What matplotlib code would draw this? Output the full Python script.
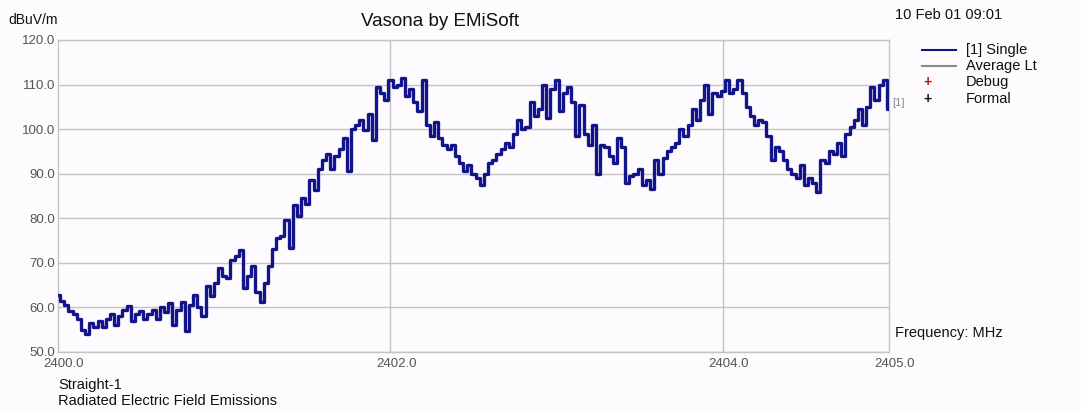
import matplotlib
matplotlib.use("Agg")
import matplotlib.pyplot as plt
import matplotlib.transforms as mtransforms
import numpy as np

plt.rcParams['font.family'] = ['Liberation Sans', 'DejaVu Sans']

# frequency axis: 2400.0 .. 2405.0 MHz, one reading every 0.025 MHz
f_start = 2400.0
f_step = 0.025

# field strength readings (dBuV/m)
level = [
    62.7, 61.5, 60.5, 59.2, 58.5, 57.5, 55.0, 54.0, 56.5, 55.5,
    57.0, 55.5, 57.5, 58.6, 56.0, 58.0, 59.5, 60.4, 57.0, 58.5,
    59.3, 57.5, 58.6, 59.5, 57.5, 60.0, 59.0, 61.0, 56.0, 59.5,
    61.3, 54.6, 60.5, 62.7, 60.0, 58.0, 64.7, 62.5, 65.5, 68.8,
    67.0, 66.5, 70.6, 71.5, 72.8, 64.3, 67.0, 69.4, 63.4, 61.3,
    65.5, 69.4, 73.0, 75.5, 76.0, 79.5, 73.3, 82.9, 80.5, 84.5,
    83.3, 88.5, 86.3, 91.0, 93.0, 94.5, 91.0, 94.0, 95.5, 98.0,
    90.5, 100.0, 101.0, 102.0, 99.8, 103.5, 97.5, 109.5, 108.0, 106.5,
    111.0, 109.5, 110.0, 111.5, 107.5, 109.0, 106.0, 104.0, 111.0, 101.0,
    98.5, 101.5, 98.0, 96.5, 95.5, 96.5, 94.0, 92.5, 90.5, 92.0,
    90.0, 89.0, 87.5, 90.0, 92.5, 93.0, 94.5, 95.5, 97.0, 96.0,
    99.0, 102.0, 100.0, 100.5, 106.0, 103.0, 104.5, 110.0, 102.5, 109.0,
    111.0, 104.0, 108.0, 109.5, 106.0, 98.5, 105.5, 99.0, 96.5, 101.0,
    90.0, 96.5, 96.0, 94.0, 92.5, 98.0, 96.0, 88.0, 89.5, 90.0,
    91.0, 87.5, 88.5, 86.5, 93.0, 90.0, 93.5, 95.0, 96.0, 97.0,
    100.0, 98.5, 101.0, 104.5, 102.0, 106.5, 110.0, 103.5, 108.0, 107.5,
    108.5, 111.0, 108.0, 109.0, 111.0, 108.0, 105.0, 103.0, 101.0, 102.0,
    101.5, 98.5, 93.0, 96.0, 95.0, 93.0, 91.0, 90.0, 89.0, 92.0,
    87.5, 89.0, 88.0, 86.0, 93.0, 92.5, 95.0, 94.5, 97.0, 94.0,
    99.0, 100.5, 102.0, 104.5, 101.0, 105.0, 109.5, 106.5, 110.0, 111.0,
    104.5,
]

y_ticks = [50, 60, 70, 80, 90, 100, 110, 120]
x_ticks = [2400, 2402, 2404, 2405]
x_grid = [2402, 2404]

legend_names = ['[1] Single', 'Average Lt', 'Debug', 'Formal']

freq = f_start + f_step * np.arange(len(level))

bg = '#fdfbfd'
grid_c = '#c4c4c4'
trace_c = '#14148a'

fig = plt.figure(figsize=(10.81, 4.11), dpi=100, facecolor=bg)
ax = fig.add_axes([0.0537, 0.1436, 0.7687, 0.7591], facecolor=bg)

ax.plot(freq, level, color=trace_c, lw=2.4, drawstyle='steps-mid', zorder=3)

ax.set_xlim(2400, 2405)
ax.set_ylim(50, 120)
ax.set_yticks(y_ticks)
ax.set_yticklabels(['%.1f' % v for v in y_ticks])
ax.set_xticks(x_ticks)
ax.set_xticklabels(['%.1f' % v for v in x_ticks])
ax.tick_params(length=0, labelsize=9.5, colors='#555555', pad=2)
ax.tick_params(axis='x', pad=4)

for v in y_ticks:
    ax.axhline(v, color=grid_c, lw=1, zorder=1)
for v in x_grid:
    ax.axvline(v, color=grid_c, lw=1, zorder=1)
for s in ax.spines.values():
    s.set_color(grid_c)
    s.set_linewidth(1)

# x tick labels sit slightly right of their gridline in the original
offset = mtransforms.ScaledTranslation(0.06, 0, fig.dpi_scale_trans)
for lab in ax.get_xticklabels():
    lab.set_transform(lab.get_transform() + offset)

# header texts
fig.text(8 / 1081, 1 - 20 / 411, 'dBuV/m', fontsize=10, va='center', ha='left', color='#111111')
fig.text(440 / 1081, 1 - 22 / 411, 'Vasona by EMiSoft', fontsize=13.5, va='center', ha='center', color='#111111')
fig.text(895 / 1081, 1 - 15 / 411, '10 Feb 01 09:01', fontsize=10.5, va='center', ha='left', color='#111111')

# legend drawn by hand
lx0, lx1, tx = 922 / 1081, 956 / 1081, 966 / 1081
rows = [50, 66, 82, 99]
fig.add_artist(plt.Line2D([lx0, lx1], [1 - rows[0] / 411] * 2, color=trace_c, lw=1.5))
fig.add_artist(plt.Line2D([lx0, lx1], [1 - rows[1] / 411] * 2, color='#8a8a8a', lw=1.5))
fig.text(927 / 1081, 1 - rows[2] / 411, '+', color='#b01818', fontsize=10, ha='center', va='center', fontweight='bold')
fig.text(927 / 1081, 1 - rows[3] / 411, '+', color='#111111', fontsize=10, ha='center', va='center', fontweight='bold')
for r, name in zip(rows, legend_names):
    fig.text(tx, 1 - r / 411, name, fontsize=10.5, ha='left', va='center', color='#111111')

fig.text(892 / 1081, 1 - 103 / 411, '[1]', fontsize=8, ha='left', va='center', color='#888888')
fig.text(895 / 1081, 1 - 333 / 411, 'Frequency: MHz', fontsize=10.5, ha='left', va='center', color='#111111')
fig.text(58 / 1081, 1 - 385 / 411, 'Straight-1', fontsize=10.5, ha='left', va='center', color='#111111')
fig.text(58 / 1081, 1 - 401 / 411, 'Radiated Electric Field Emissions', fontsize=10.5, ha='left', va='center', color='#111111')

fig.savefig('out.png', dpi=100, facecolor=bg)
